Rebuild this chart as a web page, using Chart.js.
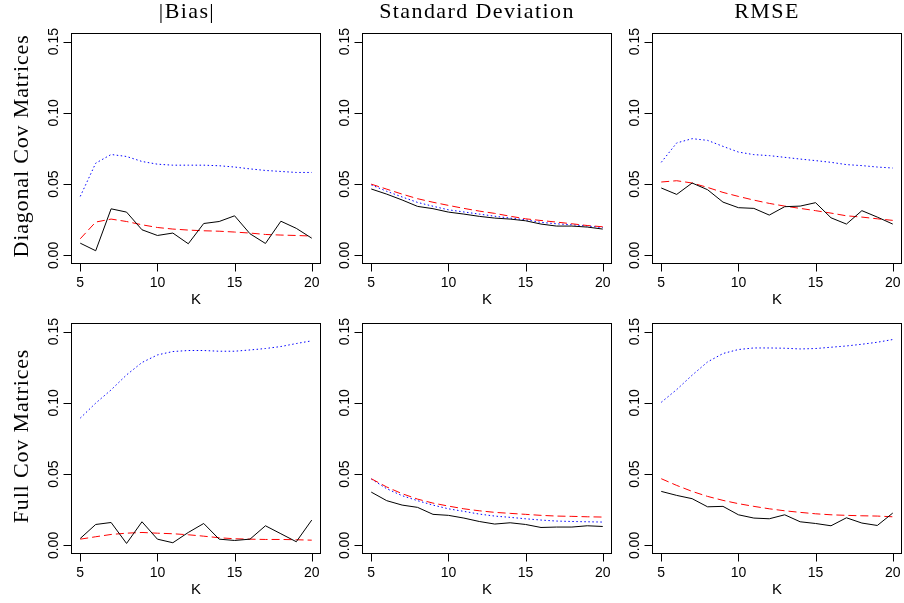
<!DOCTYPE html>
<html><head><meta charset="utf-8">
<script src="https://cdn.jsdelivr.net/npm/chart.js@4"></script>
<style>
html,body{margin:0;padding:0;background:#fff;}
#wrap{position:relative;width:904px;height:603px;overflow:hidden;background:#fff;}
#wrap canvas{position:absolute;}
</style></head>
<body><div id="wrap"></div>
<script>
// ---------- data ----------
const kValues = [5,6,7,8,9,10,11,12,13,14,15,16,17,18,19,20];
const xTicks = [5,10,15,20];
const yTicks = [0,0.05,0.10,0.15];
const yTickLabels = ["0.00","0.05","0.10","0.15"];
const colTitles = ["|Bias|","Standard Deviation","RMSE"];
const rowTitles = ["Diagonal Cov Matrices","Full Cov Matrices"];
const xAxisTitle = "K";

// Diagonal covariance matrices
const diagBiasSolid  = [0.0086,0.0033,0.0327,0.0304,0.0180,0.0140,0.0157,0.0082,0.0224,0.0238,0.0278,0.0152,0.0084,0.0240,0.0190,0.0121];
const diagBiasDashed = [0.0117,0.0234,0.0255,0.0238,0.0215,0.0196,0.0185,0.0178,0.0173,0.0170,0.0164,0.0157,0.0147,0.0143,0.0140,0.0136];
const diagBiasDotted = [0.0414,0.0647,0.0708,0.0694,0.0659,0.0640,0.0633,0.0633,0.0633,0.0629,0.0620,0.0607,0.0596,0.0589,0.0582,0.0582];

const diagSdSolid  = [0.0466,0.0430,0.0389,0.0344,0.0328,0.0304,0.0290,0.0274,0.0262,0.0255,0.0243,0.0220,0.0206,0.0206,0.0199,0.0185];
const diagSdDashed = [0.0500,0.0465,0.0430,0.0398,0.0373,0.0351,0.0330,0.0311,0.0295,0.0275,0.0257,0.0245,0.0234,0.0222,0.0210,0.0201];
const diagSdDotted = [0.0495,0.0450,0.0410,0.0372,0.0345,0.0320,0.0305,0.0290,0.0275,0.0262,0.0250,0.0232,0.0222,0.0215,0.0207,0.0195];

const diagRmseSolid  = [0.0473,0.0428,0.0508,0.0461,0.0374,0.0335,0.0330,0.0283,0.0342,0.0346,0.0370,0.0264,0.0220,0.0314,0.0269,0.0220];
const diagRmseDashed = [0.0515,0.0524,0.0508,0.0477,0.0442,0.0414,0.0388,0.0365,0.0346,0.0330,0.0314,0.0297,0.0278,0.0269,0.0257,0.0246];
const diagRmseDotted = [0.0653,0.0789,0.0819,0.0807,0.0765,0.0725,0.0707,0.0700,0.0688,0.0676,0.0665,0.0653,0.0637,0.0630,0.0620,0.0613];

// Full covariance matrices
const fullBiasSolid  = [0.0049,0.0147,0.0161,0.0014,0.0166,0.0044,0.0019,0.0091,0.0154,0.0044,0.0035,0.0044,0.0138,0.0082,0.0026,0.0178];
const fullBiasDashed = [0.0044,0.0061,0.0077,0.0086,0.0091,0.0086,0.0082,0.0075,0.0065,0.0054,0.0047,0.0044,0.0042,0.0042,0.0040,0.0037];
const fullBiasDotted = [0.0893,0.0998,0.1091,0.1196,0.1283,0.1336,0.1360,0.1367,0.1367,0.1362,0.1362,0.1371,0.1381,0.1395,0.1416,0.1435];

const fullSdSolid  = [0.0374,0.0314,0.0283,0.0267,0.0218,0.0211,0.0192,0.0168,0.0150,0.0159,0.0147,0.0126,0.0129,0.0129,0.0138,0.0133];
const fullSdDashed = [0.0468,0.0410,0.0363,0.0325,0.0297,0.0276,0.0257,0.0243,0.0232,0.0225,0.0218,0.0211,0.0206,0.0204,0.0201,0.0199];
const fullSdDotted = [0.0466,0.0398,0.0349,0.0314,0.0283,0.0257,0.0239,0.0220,0.0206,0.0197,0.0187,0.0178,0.0171,0.0168,0.0166,0.0164];

const fullRmseSolid  = [0.0379,0.0351,0.0328,0.0271,0.0274,0.0215,0.0192,0.0187,0.0215,0.0166,0.0154,0.0138,0.0194,0.0157,0.0140,0.0227];
const fullRmseDashed = [0.0468,0.0421,0.0379,0.0344,0.0316,0.0293,0.0274,0.0257,0.0243,0.0232,0.0222,0.0215,0.0211,0.0208,0.0206,0.0201];
const fullRmseDotted = [0.1004,0.1093,0.1194,0.1287,0.1346,0.1374,0.1385,0.1385,0.1383,0.1378,0.1381,0.1390,0.1399,0.1411,0.1425,0.1444];

const panels = [
  [[diagBiasSolid,diagBiasDashed,diagBiasDotted],[diagSdSolid,diagSdDashed,diagSdDotted],[diagRmseSolid,diagRmseDashed,diagRmseDotted]],
  [[fullBiasSolid,fullBiasDashed,fullBiasDotted],[fullSdSolid,fullSdDashed,fullSdDotted],[fullRmseSolid,fullRmseDashed,fullRmseDotted]]
];

// ---------- layout ----------
const boxLefts = [71,362,652];
const boxTops = [33,323];
const boxW = 250, boxH = 231;
const padL = 45, padT = 5, padR = 6, padB = 50;
const titleCenters = [187,477,767];
const rowCenters = [146,436];

const wrap = document.getElementById('wrap');

// overlay canvas for the outer (column / row) titles
const tc = document.createElement('canvas');
tc.width = 904; tc.height = 603;
tc.style.left = '0px'; tc.style.top = '0px';
tc.style.width = '904px'; tc.style.height = '603px';
wrap.appendChild(tc);
(function(){
  const ctx = tc.getContext('2d');
  ctx.fillStyle = '#000';
  ctx.font = '22px "Liberation Serif", "Times New Roman", serif';
  ctx.textBaseline = 'alphabetic';
  ctx.textAlign = 'center';
  try { ctx.letterSpacing = '1.4px'; } catch(e){}
  colTitles.forEach((t,i)=>{ ctx.fillText(t, titleCenters[i], 18); });
  try { ctx.letterSpacing = '0.85px'; } catch(e){}
  rowTitles.forEach((t,i)=>{
    ctx.save();
    ctx.translate(27.5, rowCenters[i]);
    ctx.rotate(-Math.PI/2);
    ctx.fillText(t, 0, 0);
    ctx.restore();
  });
})();

const axisPlugin = {
  id:'rAxes',
  afterDraw(chart){
    const ctx = chart.ctx, a = chart.chartArea;
    const xs = chart.scales.x, ys = chart.scales.y;
    ctx.save();
    ctx.strokeStyle='#000'; ctx.fillStyle='#000'; ctx.lineWidth=1;
    ctx.strokeRect(Math.round(a.left)+0.5, Math.round(a.top)+0.5, Math.round(a.right-a.left)-1, Math.round(a.bottom-a.top)-1);
    const bot = Math.round(a.bottom)-0.5, lft = Math.round(a.left)+0.5;
    ctx.font='14px "Liberation Sans", Arial, sans-serif';
    ctx.textAlign='center'; ctx.textBaseline='middle';
    xTicks.forEach(v=>{
      const px = Math.round(xs.getPixelForValue(v))+0.5;
      ctx.beginPath(); ctx.moveTo(px,bot); ctx.lineTo(px,bot+8); ctx.stroke();
      ctx.fillText(String(v), xs.getPixelForValue(v), a.bottom+19);
    });
    yTicks.forEach((v,i)=>{
      const py = Math.round(ys.getPixelForValue(v))+0.5;
      ctx.beginPath(); ctx.moveTo(lft-8,py); ctx.lineTo(lft,py); ctx.stroke();
      ctx.save();
      ctx.translate(a.left-17, ys.getPixelForValue(v));
      ctx.rotate(-Math.PI/2);
      ctx.fillText(yTickLabels[i],0,0);
      ctx.restore();
    });
    ctx.font='15px "Liberation Sans", Arial, sans-serif';
    ctx.fillText(xAxisTitle,(a.left+a.right)/2,a.bottom+36);
    ctx.restore();
  }
};

const styles = [
  {color:'#000000', dash:[]},
  {color:'#ff0000', dash:[8,4]},
  {color:'#0000ff', dash:[1.5,2.5]}
];

for (let r=0;r<2;r++){
  for (let c=0;c<3;c++){
    const cv = document.createElement('canvas');
    const W = boxW+padL+padR, H = boxH+padT+padB;
    cv.width=W; cv.height=H;
    cv.style.width=W+'px'; cv.style.height=H+'px';
    cv.style.left=(boxLefts[c]-padL)+'px'; cv.style.top=(boxTops[r]-padT)+'px';
    wrap.appendChild(cv);
    const series = panels[r][c];
    new Chart(cv,{
      type:'line',
      data:{
        datasets: series.map((vals,si)=>({
          data: kValues.map((k,j)=>({x:k,y:vals[j]})),
          borderColor: styles[si].color,
          borderDash: styles[si].dash,
          borderWidth: 1,
          pointRadius: 0,
          tension: 0,
          fill: false
        }))
      },
      options:{
        responsive:false, animation:false, devicePixelRatio:1, events:[],
        layout:{padding:{left:padL,top:padT,right:padR,bottom:padB}},
        plugins:{legend:{display:false},tooltip:{enabled:false},title:{display:false}},
        scales:{
          x:{type:'linear',min:4.4,max:20.6,display:false},
          y:{type:'linear',min:-0.006,max:0.156,display:false}
        }
      },
      plugins:[axisPlugin]
    });
  }
}
</script>
</body></html>
